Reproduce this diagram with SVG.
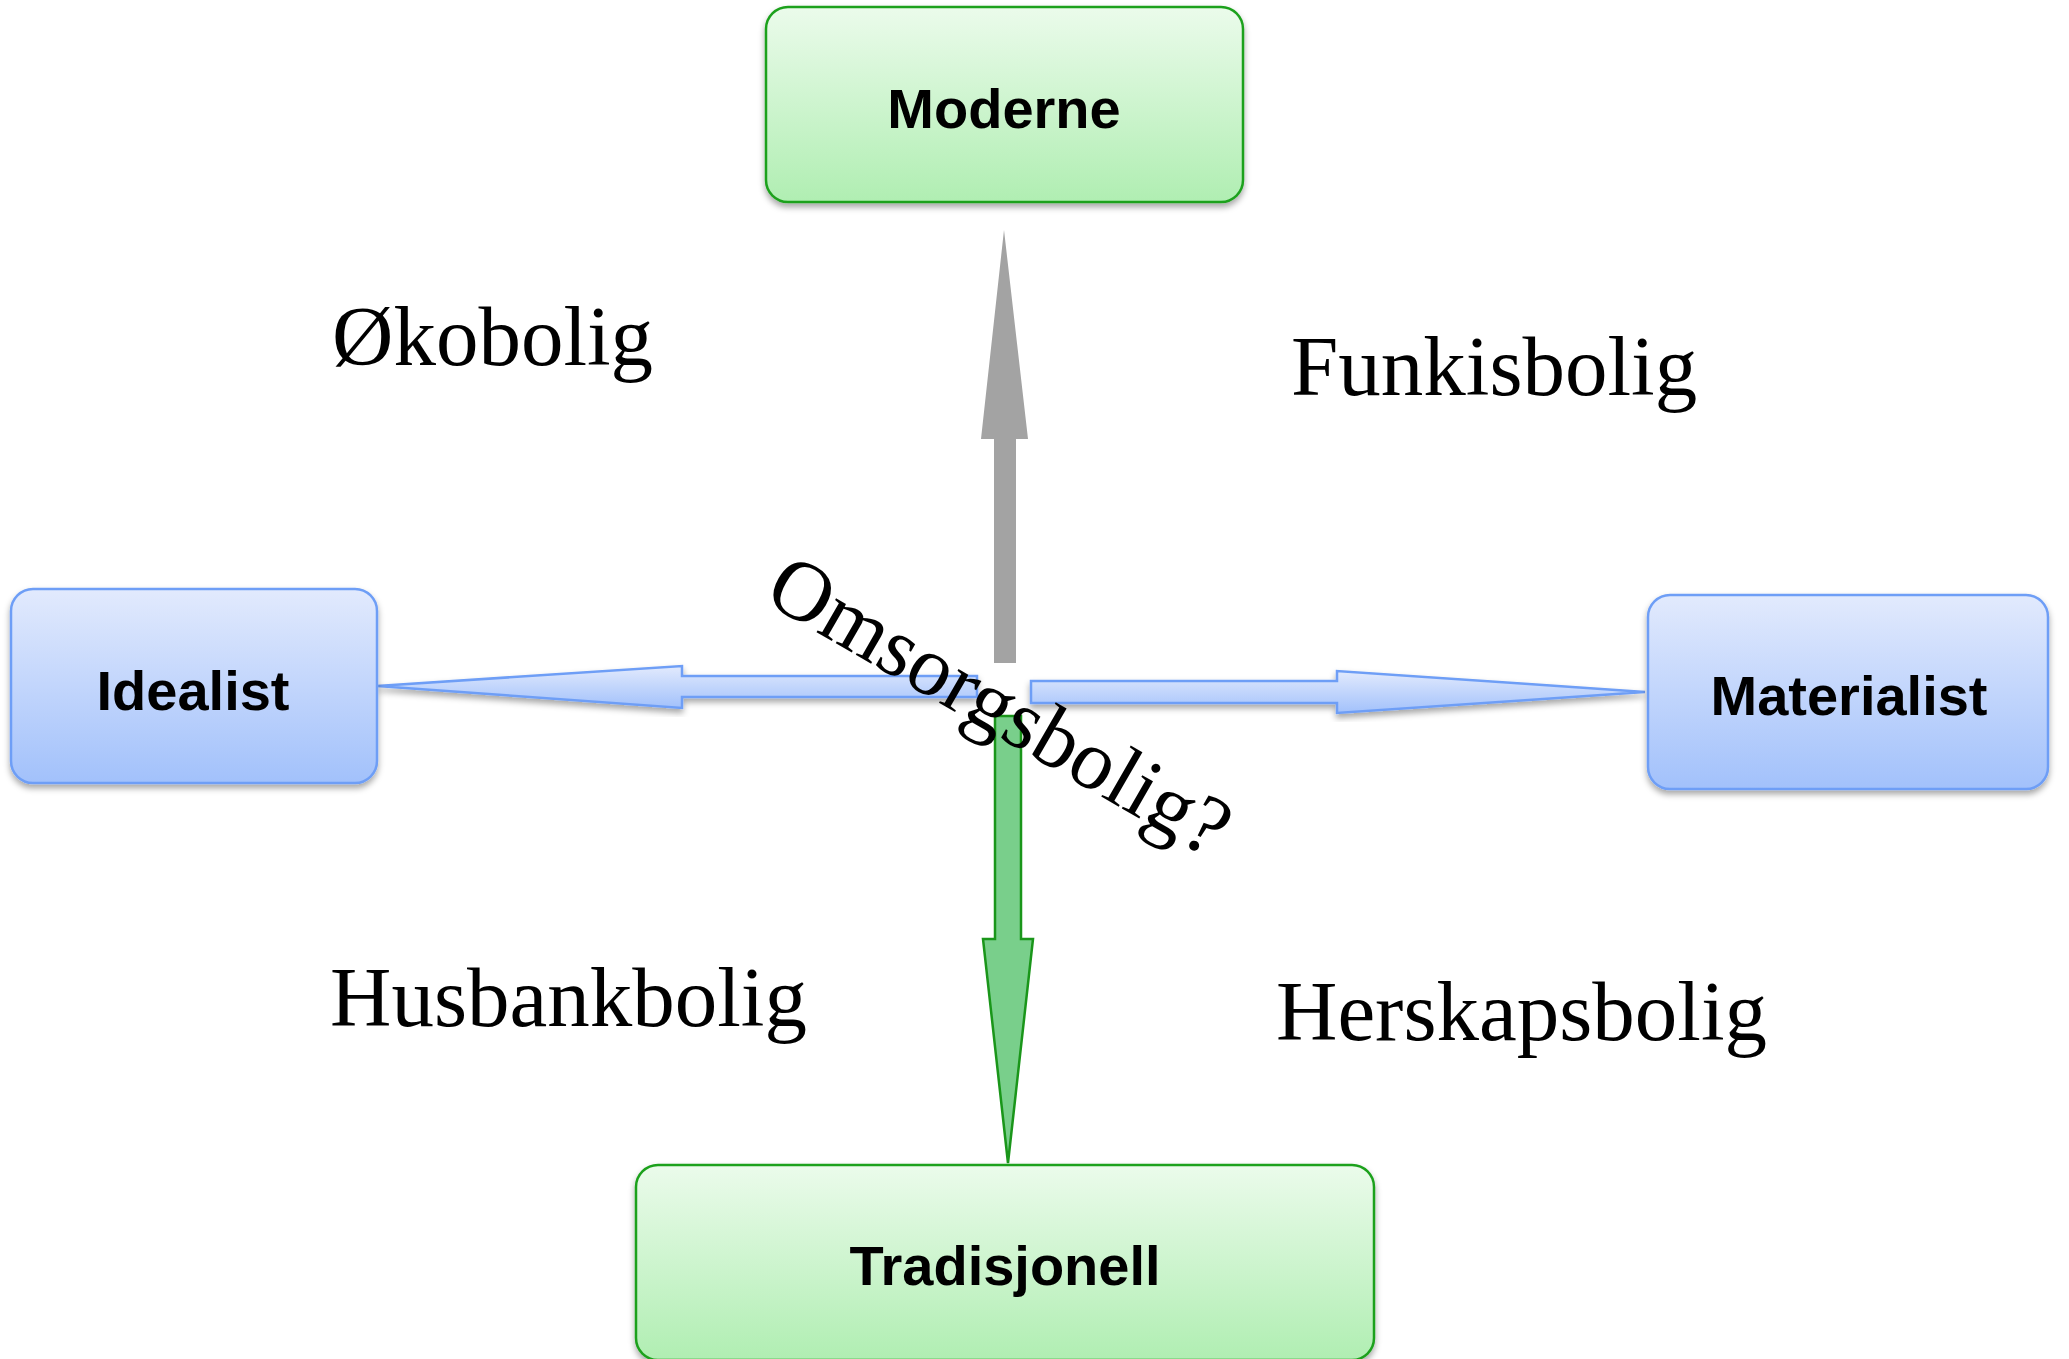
<svg xmlns="http://www.w3.org/2000/svg" width="2069" height="1359" viewBox="0 0 2069 1359">
  <defs>
    <linearGradient id="gGreen" x1="0" y1="0" x2="0" y2="1">
      <stop offset="0" stop-color="#ebfbeb"/>
      <stop offset="1" stop-color="#b0eeb2"/>
    </linearGradient>
    <linearGradient id="gBlue" x1="0" y1="0" x2="0" y2="1">
      <stop offset="0" stop-color="#e2eafd"/>
      <stop offset="1" stop-color="#a2c1fb"/>
    </linearGradient>
    <filter id="shadow" x="-10%" y="-10%" width="120%" height="130%">
      <feDropShadow dx="0" dy="4" stdDeviation="3" flood-color="#000" flood-opacity="0.35"/>
    </filter>
  </defs>
  <style>
    .green { fill: url(#gGreen); stroke: #1fa11f; stroke-width: 2.5; filter: url(#shadow); }
    .blue { fill: url(#gBlue); stroke: #6e9ef6; stroke-width: 2.5; filter: url(#shadow); }
    .nodeLabel { font-family: "Liberation Sans", Arial, sans-serif; font-weight: bold; font-size: 56px; fill: #000; text-anchor: middle; }
    .label { font-family: "Liberation Serif", "Times New Roman", serif; font-size: 85px; fill: #000; }
  </style>
  <rect width="2069" height="1359" fill="#ffffff"/>

  <g id="connectors">
    <polygon id="arrow-up" points="994,663 994,439 981,439 1004,230 1028,439 1016,439 1016,663" fill="#a3a3a3"/>
    <polygon id="arrow-left" class="blue" points="977,676 682,676 682,666 377,686 682,708 682,697 977,697"/>
    <polygon id="arrow-right" class="blue" points="1031,681 1337,681 1337,671 1645,692 1337,713 1337,703 1031,703"/>
    <polygon id="arrow-down" points="995,716 1021,716 1021,939 1033,939 1008,1163 983,939 995,939" fill="#79cf8b" stroke="#1a961a" stroke-width="2.5"/>
  </g>

  <g id="node-moderne">
    <rect class="green" x="766" y="7" width="477" height="195" rx="22"/>
    <text class="nodeLabel" x="1004" y="128">Moderne</text>
  </g>
  <g id="node-idealist">
    <rect class="blue" x="11" y="589" width="366" height="194" rx="22"/>
    <text class="nodeLabel" x="193" y="710">Idealist</text>
  </g>
  <g id="node-materialist">
    <rect class="blue" x="1648" y="595" width="400" height="194" rx="22"/>
    <text class="nodeLabel" x="1849" y="715">Materialist</text>
  </g>
  <g id="node-tradisjonell">
    <rect class="green" x="636" y="1165" width="738" height="195" rx="22"/>
    <text class="nodeLabel" x="1005" y="1285">Tradisjonell</text>
  </g>

  <g id="labels">
    <text class="label" x="332" y="365">Økobolig</text>
    <text class="label" x="1291" y="395">Funkisbolig</text>
    <text class="label" x="330" y="1026">Husbankbolig</text>
    <text class="label" x="1276" y="1040">Herskapsbolig</text>
    <text class="label" x="986" y="730" text-anchor="middle" font-size="87" transform="rotate(30 986 730)">Omsorgsbolig?</text>
  </g>
</svg>
